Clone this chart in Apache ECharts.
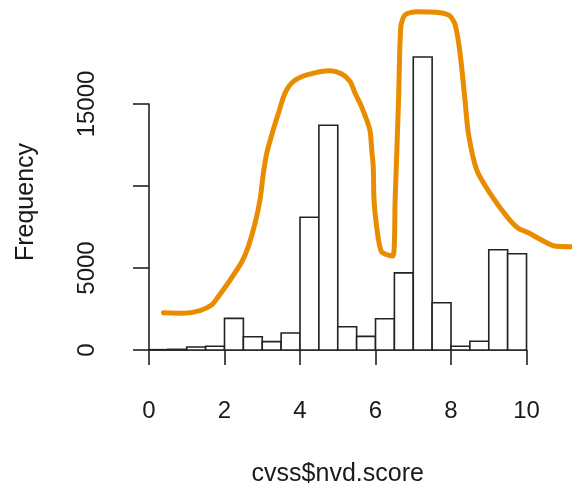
<!DOCTYPE html>
<html>
<head>
<meta charset="utf-8">
<script src="https://cdn.jsdelivr.net/npm/echarts@6/dist/echarts.min.js"></script>
<style>
html,body{margin:0;padding:0;background:#fff;}
#chart{width:572px;height:484px;}
</style>
</head>
<body>
<div id="chart"></div>
<script>
// Histogram bins (left edges, width 0.5) and counts
const binStarts = [0,0.5,1,1.5,2,2.5,3,3.5,4,4.5,5,5.5,6,6.5,7,7.5,8,8.5,9,9.5];
const binWidth = 0.5;
const counts = [20,40,180,230,1930,810,510,1040,8090,13700,1420,830,1910,4700,17870,2880,225,530,6110,5870];

// Overlay curve (x, y)
const curveX = [0.38,0.91,1.35,1.66,1.79,2.15,2.46,2.63,2.81,2.94,3.03,3.12,3.29,3.43,3.60,3.82,4.18,4.80,5.11,5.33,5.46,5.63,5.85,5.90,5.94,5.96,6.03,6.16,6.46,6.52,6.61,6.67,6.78,7.09,7.71,7.97,8.11,8.24,8.37,8.46,8.68,9.03,9.48,9.78,10.05,10.36,10.71,11.21];
const curveY = [2270,2240,2400,2740,3110,4270,5380,6300,7730,9150,10790,12010,13420,14450,15650,16360,16770,17030,16830,16360,15650,14840,13420,12200,11180,9150,7520,5990,5730,9150,15240,19710,20430,20630,20570,20370,19820,18090,15240,13210,10980,9560,8130,7420,7150,6750,6360,6300];

// Axis ticks
const xTicks = [0,2,4,6,8,10];
const yTicks = [0,5000,10000,15000];
const yTickLabels = ['0','5000','','15000'];
const xTitle = 'cvss$nvd.score';
const yTitle = 'Frequency';

const histData = binStarts.map((s,i)=>[s, s+binWidth, counts[i]]);
const curveData = curveX.map((x,i)=>[x, curveY[i]]);

const font = 'Liberation Sans, Arial, Helvetica, sans-serif';
const chart = echarts.init(document.getElementById('chart'), null, {renderer:'canvas'});
chart.setOption({
  backgroundColor:'#ffffff',
  animation:false,
  graphic:[
    {type:'text', x:26, y:202, rotation:Math.PI/2,
     style:{text:yTitle, fill:'#1a1a1a', font:'25px ' + font, align:'center', verticalAlign:'middle'}}
  ],
  grid:[
    {left:149, top:5.6, width:426.6, height:344.4, outerBoundsMode:'none', containLabel:false},
    {left:149, top:104, width:377.5, height:246, outerBoundsMode:'none', containLabel:false}
  ],
  xAxis:[
    {type:'value', gridIndex:0, min:0, max:11.3, show:false},
    {type:'value', gridIndex:1, min:xTicks[0], max:xTicks[xTicks.length-1], interval:2,
     offset:12.7, position:'bottom',
     axisLine:{show:true, lineStyle:{color:'#222', width:1.6}},
     axisTick:{show:true, length:15, lineStyle:{color:'#222', width:1.6}},
     axisLabel:{show:true, color:'#1a1a1a', fontSize:24, fontFamily:font, margin:37},
     splitLine:{show:false},
     name:xTitle, nameLocation:'middle', nameGap:99,
     nameTextStyle:{color:'#1a1a1a', fontSize:25, fontFamily:font}}
  ],
  yAxis:[
    {type:'value', gridIndex:0, min:0, max:21000, show:false},
    {type:'value', gridIndex:1, min:yTicks[0], max:yTicks[yTicks.length-1], interval:5000,
     offset:15, position:'left',
     axisLine:{show:true, lineStyle:{color:'#222', width:1.6}},
     axisTick:{show:true, length:16, lineStyle:{color:'#222', width:1.6}},
     axisLabel:{show:true, rotate:90, color:'#1a1a1a', fontSize:24, fontFamily:font, margin:35,
       formatter:function(v){const i=yTicks.indexOf(v);return i>=0?yTickLabels[i]:'';}},
     splitLine:{show:false}}
  ],
  series:[
    {type:'custom', xAxisIndex:0, yAxisIndex:0, data:histData,
     renderItem:function(params, api){
       const p0 = api.coord([api.value(0), api.value(2)]);
       const p1 = api.coord([api.value(1), 0]);
       return {type:'rect', shape:{x:p0[0], y:p0[1], width:p1[0]-p0[0], height:p1[1]-p0[1]},
               style:{fill:'#ffffff', stroke:'#222', lineWidth:1.6}};
     }, z:2},
    {type:'line', xAxisIndex:0, yAxisIndex:0, data:curveData, smooth:0.25, symbol:'none',
     lineStyle:{color:'#EA8C00', width:5, cap:'round', join:'round'}, z:3}
  ]
});
</script>
</body>
</html>
